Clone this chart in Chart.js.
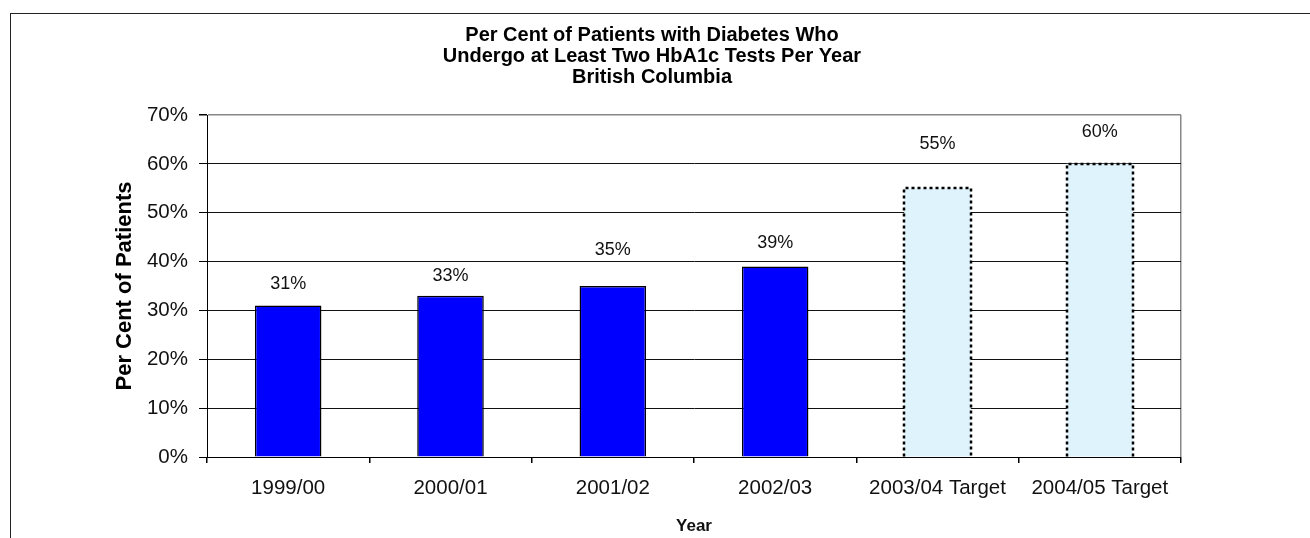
<!DOCTYPE html>
<html>
<head>
<meta charset="utf-8">
<script src="https://cdn.jsdelivr.net/npm/chart.js@4/dist/chart.umd.min.js"></script>
<style>
  html, body { margin: 0; padding: 0; background: #fff; overflow: hidden; }
  #frame {
    position: absolute; left: 10px; top: 13px;
    width: 1320px; height: 560px;
    border: 1px solid #222;
  }
  #box { position: absolute; left: 0; top: 0; width: 1299px; height: 524px; }
</style>
</head>
<body>
<div id="frame"><div id="box"><canvas id="graph1"></canvas></div></div>
<script>
const years = ["1999/00", "2000/01", "2001/02", "2002/03", "2003/04 Target", "2004/05 Target"];
const percents = [31, 33, 35, 39, 55, 60];
const isTarget = [false, false, false, false, true, true];
// how far each value label floats above its bar, in px
const labelLift = [22, 20, 36, 23, 44, 32];

const FONT = "'Liberation Sans', Arial, sans-serif";

// dotted outline round the target bars, then the value over every bar
const barExtras = {
  id: "barExtras",
  afterDatasetsDraw(chart) {
    const ctx = chart.ctx;
    const meta = chart.getDatasetMeta(0);
    ctx.save();
    ctx.strokeStyle = "#000";
    ctx.lineWidth = 2.5;
    ctx.setLineDash([3, 3]);
    meta.data.forEach((bar, i) => {
      if (!isTarget[i]) return;
      const { x, y, base, width } = bar.getProps(["x", "y", "base", "width"], true);
      const l = Math.round(x - width / 2), r = Math.round(x + width / 2);
      const t = Math.round(y);
      ctx.beginPath();
      ctx.moveTo(l, base);
      ctx.lineTo(l, t);
      ctx.lineTo(r, t);
      ctx.lineTo(r, base);
      ctx.stroke();
    });
    ctx.setLineDash([]);
    ctx.font = "18px " + FONT;
    ctx.fillStyle = "#111";
    ctx.textAlign = "center";
    ctx.textBaseline = "middle";
    meta.data.forEach((bar, i) => {
      ctx.fillText(percents[i] + "%", bar.x, bar.y - labelLift[i]);
    });
    ctx.restore();
  }
};

const graph = document.getElementById("graph1").getContext("2d");

let myChart = new Chart(graph, {
  type: "bar",
  data: {
    labels: years,
    datasets: [
      {
        data: percents,
        backgroundColor: isTarget.map(t => t ? "#dff3fc" : "#0000ff"),
        borderColor: "#000",
        borderWidth: isTarget.map(t => t ? 0 : 1.5),
        barPercentage: 0.41,
        categoryPercentage: 1,
      },
    ],
  },
  options: {
    responsive: true,
    maintainAspectRatio: false,
    animation: false,
    events: [],
    layout: {
      padding: { left: 112, right: 129, top: 0, bottom: 0 },
    },
    plugins: {
      legend: { display: false },
      tooltip: { enabled: false },
      title: {
        display: true,
        text: [
          "Per Cent of Patients with Diabetes Who",
          "Undergo at Least Two HbA1c Tests Per Year",
          "British Columbia"
        ],
        color: "#000",
        font: { family: FONT, size: 20, weight: "bold", lineHeight: 1.05 },
        padding: { top: 11, bottom: 27 },
      },
    },
    scales: {
      x: {
        offset: true,
        afterFit(scale) { scale.height = 81; },
        border: { color: "#000", width: 1 },
        grid: {
          offset: true,
          drawOnChartArea: true,
          // only the closing line on the right shows inside the plot
          color: c => c.type === "scale" ? "#888" : "rgba(0,0,0,0)",
          tickColor: "#000",
          tickLength: 6,
          lineWidth: 1.5,
        },
        ticks: {
          color: "#111",
          font: { family: FONT, size: 20.5 },
          padding: 13,
          maxRotation: 0,
        },
        title: {
          display: true,
          text: "Year",
          color: "#111",
          font: { family: FONT, size: 17, weight: "bold" },
          padding: { top: 0, bottom: 1 },
        },
      },
      y: {
        min: 0,
        max: 70,
        afterFit(scale) { scale.width = 84; },
        border: { color: "#000", width: 1 },
        grid: {
          color: c => c.tick && c.tick.value === 70 ? "#888" : "#111",
          lineWidth: c => c.tick && c.tick.value === 70 ? 1.5 : 1,
          tickColor: "#000",
          tickLength: 8,
        },
        ticks: {
          stepSize: 10,
          color: "#111",
          font: { family: FONT, size: 20.5 },
          padding: 11,
          callback: v => v + "%",
        },
        title: {
          display: true,
          text: "Per Cent of Patients",
          color: "#000",
          font: { family: FONT, size: 22, weight: "bold" },
          padding: { top: -11, bottom: 0 },
        },
      },
    },
  },
  plugins: [barExtras],
});
</script>
</body>
</html>
